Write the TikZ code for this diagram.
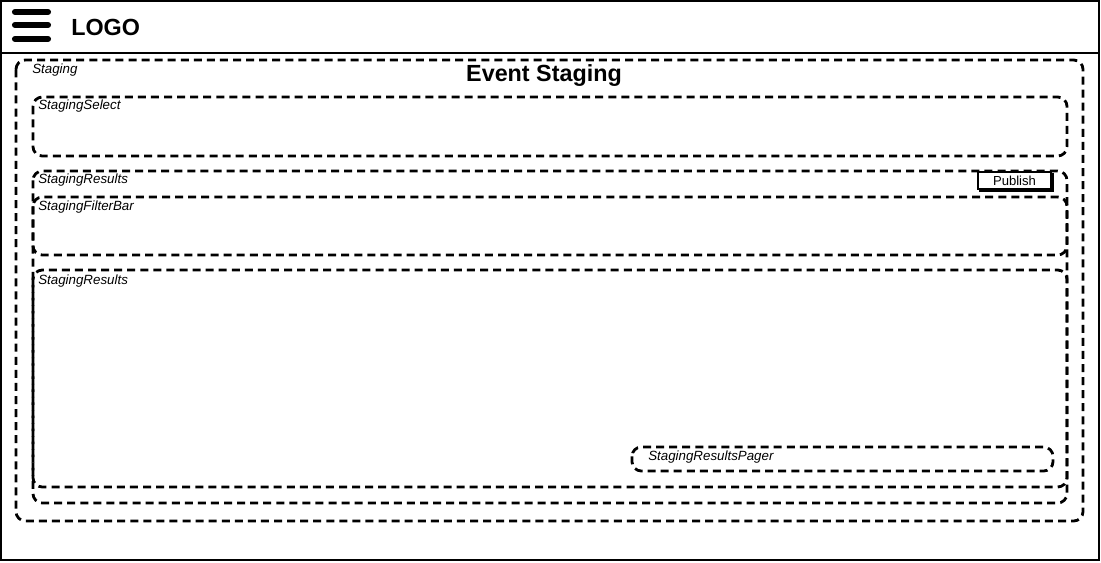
\documentclass[tikz,border=0pt]{standalone}
\usepackage{fontspec}
\setmainfont{Liberation Sans}
\usetikzlibrary{positioning}

\begin{document}
\begin{tikzpicture}[x=0.75pt,y=-0.75pt]
    \tikzstyle{frame}=[draw=black,line width=2.1pt,dash pattern=on 6pt off 3.8pt,rounded corners=7pt]
    \tikzstyle{tag}=[anchor=west,inner sep=0pt,font=\fontsize{10}{12}\selectfont\itshape]
    \useasboundingbox (0,0) rectangle (1101,562);

    % window and header
    \draw[line width=1.5pt] (1,1) rectangle (1099,560);
    \draw[line width=1pt] (1,53) -- (1099,53);
    \foreach \y in {12,25,39}
        \draw[line width=4.6pt,line cap=round] (15,\y) -- (48,\y);
    \node[anchor=west,inner sep=0pt,font=\fontsize{17.5}{20}\selectfont\bfseries] (logo) at (71,27.5) {LOGO};

    % containers
    \foreach \name/\xa/\ya/\xb/\yb/\lx/\ly/\txt in {
            staging/16/60/1083/521/32/70.5/Staging,
            select/33/97/1067/156/38/106.5/StagingSelect,
            results/33/171/1067/503/38/180/StagingResults,
            filter/33/197/1067/255/38/207.5/StagingFilterBar,
            list/33/270/1067/487/38/281/StagingResults,
            pager/632/447/1053/471/648/457/StagingResultsPager}
        {
        \draw[frame] (\xa,\ya) rectangle (\xb,\yb);
        \node[tag] (\name) at (\lx,\ly) {\txt};
        }

    \node[font=\fontsize{17.5}{20}\selectfont\bfseries] (title) at (544,75.5) {Event Staging};

    % publish button
    \draw[line width=2.2pt] (980,174) rectangle (1053,191);
    \node[draw=black,fill=white,line width=0.8pt,
          minimum width=54.75pt,minimum height=12.75pt,inner sep=0pt,
          font=\fontsize{9.8}{11}\selectfont] (publish) at (1014.5,180.5) {Publish};
\end{tikzpicture}
\end{document}
